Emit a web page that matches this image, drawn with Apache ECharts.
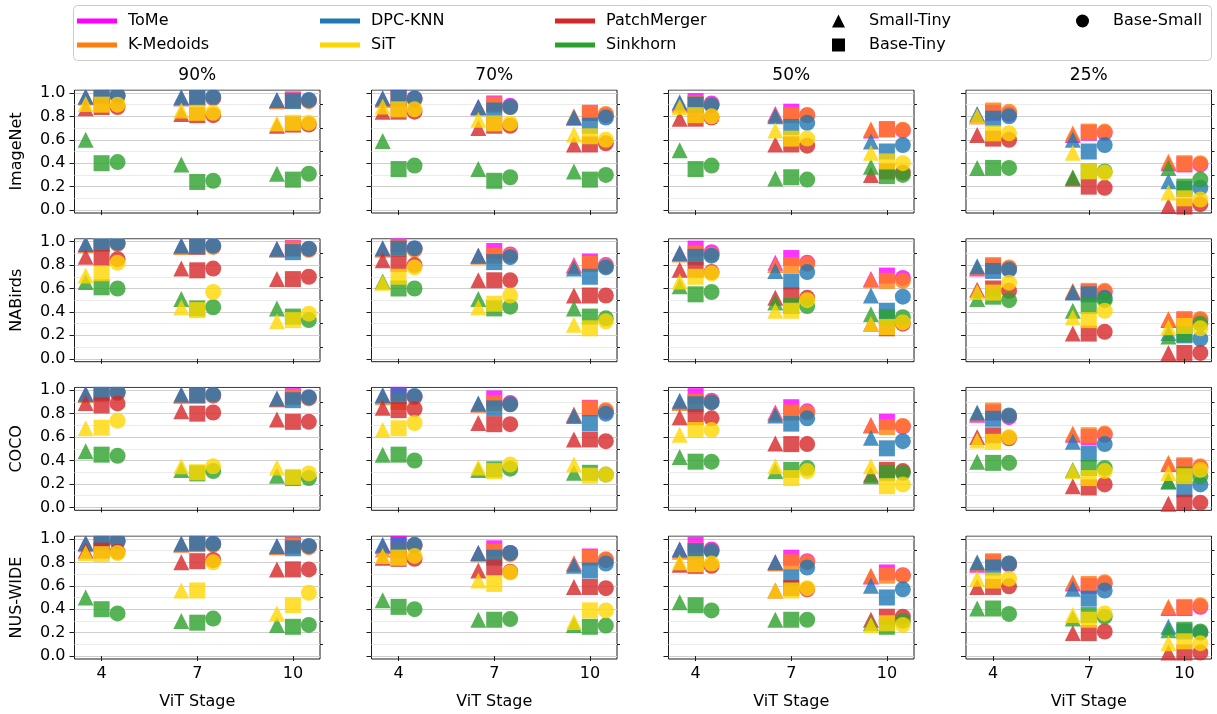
<!DOCTYPE html>
<html><head><meta charset="utf-8">
<script src="https://cdn.jsdelivr.net/npm/echarts@6/dist/echarts.min.js"></script>
<style>html,body{margin:0;padding:0;background:#fff}#chart{width:1217px;height:714px}</style>
</head><body><div id="chart"></div>
<script>
// ---------------- data ----------------
const datasets = ['ImageNet', 'NABirds', 'COCO', 'NUS-WIDE'];
const ratios = ['90%', '70%', '50%', '25%'];
const stages = [4, 7, 10];
const pairs = ['Small-Tiny', 'Base-Tiny', 'Base-Small'];
const legendMethods = ['ToMe', 'K-Medoids', 'DPC-KNN', 'SiT', 'PatchMerger', 'Sinkhorn'];
const plotOrder = ['ToMe', 'K-Medoids', 'DPC-KNN', 'PatchMerger', 'Sinkhorn', 'SiT'];
const yMajorTicks = [0, 0.2, 0.4, 0.6, 0.8, 1.0];
const yMinorTicks = [0.1, 0.3, 0.5, 0.7, 0.9];
// each array: rows = ratios (90,70,50,25); 9 values = stage 4 [ST,BT,BS], stage 7 [ST,BT,BS], stage 10 [ST,BT,BS]
const ImageNet_ToMe = [
  [0.965,0.975,0.975, 0.955,0.955,0.955, 0.935,0.945,0.935],
  [0.95,0.97,0.95, 0.88,0.91,0.89, 0.79,0.83,0.81],
  [0.91,0.93,0.91, 0.82,0.84,0.81, 0.68,0.69,0.68],
  [0.80,0.83,0.82, 0.64,0.66,0.66, 0.40,0.39,0.39]];
const ImageNet_KMedoids = [
  [0.96,0.97,0.97, 0.955,0.955,0.955, 0.93,0.935,0.93],
  [0.94,0.95,0.94, 0.87,0.90,0.88, 0.80,0.83,0.82],
  [0.90,0.91,0.90, 0.81,0.81,0.81, 0.69,0.69,0.685],
  [0.81,0.85,0.84, 0.655,0.67,0.67, 0.415,0.40,0.40]];
const ImageNet_DPCKNN = [
  [0.97,0.98,0.98, 0.965,0.96,0.965, 0.94,0.93,0.94],
  [0.955,0.96,0.955, 0.88,0.85,0.88, 0.79,0.72,0.79],
  [0.92,0.90,0.895, 0.80,0.71,0.745, 0.585,0.50,0.555],
  [0.82,0.78,0.80, 0.60,0.50,0.555, 0.245,0.18,0.19]];
const ImageNet_SiT = [
  [0.905,0.90,0.90, 0.85,0.83,0.83, 0.74,0.745,0.745],
  [0.885,0.86,0.86, 0.77,0.74,0.74, 0.645,0.63,0.60],
  [0.88,0.81,0.80, 0.68,0.61,0.61, 0.49,0.415,0.40],
  [0.80,0.655,0.655, 0.49,0.33,0.32, 0.15,0.10,0.09]];
const ImageNet_PatchMerger = [
  [0.87,0.88,0.88, 0.82,0.81,0.81, 0.72,0.73,0.73],
  [0.84,0.84,0.84, 0.70,0.72,0.72, 0.56,0.56,0.57],
  [0.78,0.78,0.79, 0.56,0.56,0.55, 0.30,0.33,0.32],
  [0.64,0.61,0.60, 0.27,0.20,0.19, 0.035,0.03,0.05]];
const ImageNet_Sinkhorn = [
  [0.60,0.40,0.41, 0.39,0.24,0.25, 0.31,0.26,0.31],
  [0.59,0.35,0.38, 0.35,0.25,0.28, 0.33,0.26,0.30],
  [0.51,0.35,0.38, 0.27,0.28,0.26, 0.37,0.29,0.30],
  [0.36,0.36,0.36, 0.28,0.33,0.33, 0.36,0.20,0.26]];

const NABirds_ToMe = [
  [0.975,0.985,0.985, 0.96,0.955,0.96, 0.935,0.945,0.935],
  [0.94,0.98,0.94, 0.88,0.92,0.89, 0.80,0.83,0.80],
  [0.90,0.94,0.91, 0.82,0.86,0.82, 0.68,0.71,0.69],
  [0.77,0.79,0.77, 0.57,0.57,0.57, 0.33,0.33,0.33]];
const NABirds_KMedoids = [
  [0.97,0.98,0.98, 0.955,0.955,0.955, 0.93,0.94,0.93],
  [0.93,0.95,0.93, 0.87,0.88,0.88, 0.79,0.81,0.79],
  [0.89,0.90,0.89, 0.80,0.80,0.81, 0.67,0.665,0.665],
  [0.78,0.80,0.78, 0.58,0.58,0.58, 0.34,0.34,0.34]];
const NABirds_DPCKNN = [
  [0.98,0.99,0.99, 0.966,0.96,0.966, 0.94,0.91,0.94],
  [0.944,0.94,0.944, 0.88,0.825,0.867, 0.77,0.70,0.78],
  [0.90,0.87,0.88, 0.75,0.66,0.74, 0.54,0.41,0.53],
  [0.79,0.75,0.76, 0.565,0.55,0.52, 0.22,0.20,0.17]];
const NABirds_SiT = [
  [0.71,0.73,0.82, 0.44,0.415,0.57, 0.32,0.33,0.385],
  [0.65,0.70,0.78, 0.44,0.47,0.54, 0.29,0.26,0.32],
  [0.66,0.70,0.73, 0.41,0.41,0.50, 0.30,0.27,0.31],
  [0.57,0.565,0.65, 0.355,0.33,0.41, 0.27,0.28,0.26]];
const NABirds_PatchMerger = [
  [0.87,0.86,0.85, 0.77,0.755,0.77, 0.68,0.68,0.70],
  [0.84,0.81,0.80, 0.67,0.67,0.67, 0.54,0.54,0.54],
  [0.76,0.76,0.74, 0.52,0.54,0.52, 0.30,0.26,0.30],
  [0.59,0.60,0.58, 0.215,0.215,0.23, 0.05,0.05,0.05]];
const NABirds_Sinkhorn = [
  [0.655,0.61,0.60, 0.51,0.43,0.44, 0.43,0.36,0.33],
  [0.66,0.60,0.60, 0.51,0.43,0.445, 0.43,0.36,0.345],
  [0.62,0.55,0.57, 0.48,0.45,0.45, 0.38,0.355,0.355],
  [0.51,0.53,0.50, 0.41,0.45,0.50, 0.19,0.21,0.30]];

const COCO_ToMe = [
  [0.965,0.975,0.98, 0.955,0.955,0.955, 0.925,0.95,0.935],
  [0.95,0.98,0.945, 0.88,0.93,0.89, 0.79,0.85,0.82],
  [0.90,0.95,0.91, 0.81,0.855,0.82, 0.70,0.73,0.69],
  [0.79,0.81,0.77, 0.62,0.60,0.62, 0.37,0.35,0.34]];
const COCO_KMedoids = [
  [0.96,0.97,0.975, 0.955,0.955,0.955, 0.92,0.94,0.93],
  [0.94,0.90,0.94, 0.875,0.89,0.88, 0.79,0.845,0.83],
  [0.89,0.90,0.90, 0.80,0.81,0.81, 0.70,0.686,0.695],
  [0.80,0.826,0.78, 0.63,0.616,0.63, 0.38,0.36,0.35]];
const COCO_DPCKNN = [
  [0.97,0.98,0.985, 0.963,0.96,0.963, 0.93,0.915,0.94],
  [0.96,0.95,0.95, 0.887,0.845,0.88, 0.78,0.72,0.80],
  [0.91,0.88,0.896, 0.785,0.715,0.76, 0.594,0.504,0.565],
  [0.81,0.756,0.784, 0.56,0.46,0.54, 0.22,0.154,0.196]];
const COCO_SiT = [
  [0.675,0.68,0.74, 0.35,0.30,0.35, 0.34,0.26,0.29],
  [0.66,0.675,0.72, 0.34,0.31,0.365, 0.365,0.27,0.28],
  [0.62,0.66,0.66, 0.35,0.25,0.31, 0.35,0.18,0.196],
  [0.57,0.56,0.60, 0.31,0.25,0.31, 0.294,0.266,0.32]];
const COCO_PatchMerger = [
  [0.89,0.87,0.887, 0.82,0.80,0.81, 0.75,0.73,0.73],
  [0.85,0.83,0.84, 0.72,0.71,0.71, 0.58,0.58,0.565],
  [0.77,0.77,0.76, 0.546,0.54,0.54, 0.28,0.32,0.31],
  [0.60,0.615,0.59, 0.18,0.17,0.196, 0.03,0.04,0.04]];
const COCO_Sinkhorn = [
  [0.48,0.45,0.44, 0.32,0.29,0.31, 0.27,0.25,0.25],
  [0.45,0.45,0.40, 0.32,0.325,0.33, 0.295,0.295,0.28],
  [0.43,0.39,0.39, 0.31,0.32,0.336, 0.265,0.295,0.295],
  [0.39,0.38,0.38, 0.32,0.336,0.336, 0.224,0.28,0.266]];

const NUSWIDE_ToMe = [
  [0.96,0.975,0.98, 0.955,0.96,0.955, 0.935,0.95,0.935],
  [0.94,0.98,0.945, 0.88,0.92,0.88, 0.79,0.85,0.82],
  [0.91,0.95,0.91, 0.80,0.84,0.81, 0.68,0.714,0.69],
  [0.78,0.80,0.78, 0.62,0.60,0.62, 0.41,0.41,0.42]];
const NUSWIDE_KMedoids = [
  [0.955,0.97,0.975, 0.95,0.955,0.95, 0.93,0.94,0.93],
  [0.91,0.90,0.94, 0.87,0.89,0.87, 0.79,0.84,0.826],
  [0.89,0.90,0.90, 0.79,0.80,0.80, 0.686,0.686,0.686],
  [0.79,0.81,0.79, 0.63,0.616,0.63, 0.42,0.42,0.434]];
const NUSWIDE_DPCKNN = [
  [0.966,0.98,0.985, 0.96,0.966,0.96, 0.94,0.92,0.94],
  [0.95,0.947,0.95, 0.88,0.84,0.88, 0.77,0.73,0.79],
  [0.91,0.896,0.896, 0.80,0.67,0.756, 0.60,0.50,0.57],
  [0.80,0.756,0.79, 0.574,0.49,0.56, 0.25,0.21,0.20]];
const NUSWIDE_SiT = [
  [0.88,0.87,0.88, 0.56,0.56,0.80, 0.364,0.434,0.54],
  [0.855,0.84,0.855, 0.645,0.616,0.714, 0.29,0.39,0.39],
  [0.80,0.784,0.79, 0.56,0.56,0.58, 0.266,0.28,0.266],
  [0.66,0.645,0.66, 0.35,0.31,0.364, 0.11,0.126,0.11]];
const NUSWIDE_PatchMerger = [
  [0.90,0.90,0.89, 0.80,0.81,0.82, 0.74,0.74,0.74],
  [0.84,0.83,0.83, 0.73,0.756,0.72, 0.59,0.59,0.58],
  [0.78,0.77,0.77, 0.56,0.58,0.57, 0.31,0.336,0.336],
  [0.59,0.59,0.595, 0.196,0.196,0.21, 0.03,0.03,0.03]];
const NUSWIDE_Sinkhorn = [
  [0.50,0.40,0.364, 0.30,0.285,0.32, 0.266,0.25,0.266],
  [0.476,0.42,0.40, 0.31,0.31,0.316, 0.266,0.25,0.26],
  [0.46,0.434,0.39, 0.31,0.31,0.31, 0.28,0.25,0.30],
  [0.406,0.406,0.36, 0.32,0.35,0.336, 0.22,0.224,0.21]];

// ---------------- assembly ----------------
const DATA = {
  'ImageNet': {'ToMe': ImageNet_ToMe, 'K-Medoids': ImageNet_KMedoids, 'DPC-KNN': ImageNet_DPCKNN, 'SiT': ImageNet_SiT, 'PatchMerger': ImageNet_PatchMerger, 'Sinkhorn': ImageNet_Sinkhorn},
  'NABirds': {'ToMe': NABirds_ToMe, 'K-Medoids': NABirds_KMedoids, 'DPC-KNN': NABirds_DPCKNN, 'SiT': NABirds_SiT, 'PatchMerger': NABirds_PatchMerger, 'Sinkhorn': NABirds_Sinkhorn},
  'COCO': {'ToMe': COCO_ToMe, 'K-Medoids': COCO_KMedoids, 'DPC-KNN': COCO_DPCKNN, 'SiT': COCO_SiT, 'PatchMerger': COCO_PatchMerger, 'Sinkhorn': COCO_Sinkhorn},
  'NUS-WIDE': {'ToMe': NUSWIDE_ToMe, 'K-Medoids': NUSWIDE_KMedoids, 'DPC-KNN': NUSWIDE_DPCKNN, 'SiT': NUSWIDE_SiT, 'PatchMerger': NUSWIDE_PatchMerger, 'Sinkhorn': NUSWIDE_Sinkhorn}
};
const COLORS = {'ToMe': '#ff00ff', 'K-Medoids': '#ff7f0e', 'DPC-KNN': '#1f77b4', 'SiT': '#ffd700', 'PatchMerger': '#d62728', 'Sinkhorn': '#2ca02c'};
const SHAPES = ['triangle', 'rect', 'circle'];
const SHIFT = [-0.5, 0, 0.5];

const FONT = 'DejaVu Sans';
const colLeft = [74.5, 371.5, 668.5, 966];
const colW = 245.5;
const rowTop = [90, 238.7, 387.3, 536];
const rowH = 123;
const FRAME = '#1a1a1a';

const grid = [], xAxis = [], yAxis = [], series = [], title = [], masks = [];
for (let r = 0; r < 4; r++) {
  for (let c = 0; c < 4; c++) {
    const gi = r * 4 + c;
    grid.push({left: colLeft[c], top: rowTop[r], width: colW, height: rowH,
      show: true, borderColor: FRAME, borderWidth: 1, backgroundColor: 'transparent', containLabel: false});
    // white strip above the frame: clips markers that overflow the top edge (as matplotlib does)
    masks.push({type: 'rect', z: 3, silent: true,
      shape: {x: colLeft[c] - 3, y: rowTop[r] - 12, width: colW + 6, height: 11.5},
      style: {fill: '#fff'}});
    xAxis.push({gridIndex: gi, type: 'value', min: 3.15, max: 10.85, z: 5,
      axisLine: {show: false}, splitLine: {show: false},
      axisTick: {show: true, customValues: stages, length: 5, lineStyle: {color: FRAME, width: 1}},
      axisLabel: {show: r === 3, customValues: stages, margin: 7, fontSize: 16, color: '#000', fontFamily: FONT},
      name: r === 3 ? 'ViT Stage' : '', nameLocation: 'middle', nameGap: 35,
      nameTextStyle: {fontSize: 16, color: '#000', fontFamily: FONT}});
    yAxis.push({gridIndex: gi, type: 'value', min: -0.025, max: 1.025,
      axisLine: {show: false},
      axisTick: {show: true, customValues: yMajorTicks, length: 5, lineStyle: {color: FRAME, width: 1}},
      axisLabel: {show: c === 0, customValues: yMajorTicks, margin: 9, fontSize: 16, color: '#000', fontFamily: FONT,
        formatter: v => v.toFixed(1)},
      splitLine: {show: true, lineStyle: {color: '#cfcfcf', width: 1}},
      name: c === 0 ? datasets[r] : '', nameLocation: 'middle', nameGap: 50, nameRotate: 90,
      nameTextStyle: {fontSize: 16, color: '#000', fontFamily: FONT}});
    yAxis.push({gridIndex: gi, type: 'value', min: -0.025, max: 1.025,
      axisLine: {show: false},
      axisTick: {show: true, customValues: yMinorTicks, length: 3, lineStyle: {color: FRAME, width: 1}},
      axisLabel: {show: false, customValues: yMinorTicks},
      splitLine: {show: true, lineStyle: {color: '#ebebeb', width: 1}}});
    for (const m of plotOrder) {
      const vals = DATA[datasets[r]][m][c];
      const data = [];
      stages.forEach((s, si) => pairs.forEach((p, pi) => {
        data.push({value: [s + SHIFT[pi], vals[si * 3 + pi]], symbol: SHAPES[pi]});
      }));
      series.push({type: 'scatter', name: m, xAxisIndex: gi, yAxisIndex: gi * 2, data: data,
        symbolSize: 16, itemStyle: {color: COLORS[m], opacity: 0.8}, silent: true, clip: false});
    }
  }
}
ratios.forEach((t, c) => title.push({text: t, left: colLeft[c] + colW / 2, top: 67, textAlign: 'center', padding: 0,
  textStyle: {fontSize: 17, fontWeight: 'normal', color: '#000', fontFamily: FONT}}));

// legend-only series for the marker shapes
pairs.forEach(p => series.push({type: 'scatter', name: p, xAxisIndex: 0, yAxisIndex: 0, data: [], itemStyle: {color: '#000'}}));

const legendSlots = {
  'ToMe': [77, 0], 'K-Medoids': [77, 1], 'DPC-KNN': [320, 0], 'SiT': [320, 1],
  'PatchMerger': [555, 0], 'Sinkhorn': [555, 1],
  'Small-Tiny': [832, 0], 'Base-Tiny': [832, 1], 'Base-Small': [1076, 0]
};
const rowY = [13, 37];
const legend = [];
legendMethods.forEach(m => {
  const [x, row] = legendSlots[m];
  legend.push({left: x, top: rowY[row], padding: 0, itemWidth: 40, itemHeight: 5, selectedMode: false,
    data: [{name: m, icon: 'rect', itemStyle: {color: COLORS[m], opacity: 1}}],
    textStyle: {fontSize: 16, color: '#000', fontFamily: FONT, padding: [0, 0, 0, 6]}});
});
pairs.forEach((p, pi) => {
  const [x, row] = legendSlots[p];
  legend.push({left: x, top: rowY[row], padding: 0, itemWidth: 13, itemHeight: 13, selectedMode: false,
    data: [{name: p, icon: SHAPES[pi], itemStyle: {color: '#000', opacity: 1}}],
    textStyle: {fontSize: 16, color: '#000', fontFamily: FONT, padding: [0, 0, 0, 19]}});
});

const chart = echarts.init(document.getElementById('chart'), null, {renderer: 'canvas'});
chart.setOption({
  animation: false,
  backgroundColor: '#fff',
  graphic: [{type: 'rect', z: -1, shape: {x: 73.5, y: 5.5, width: 1138, height: 55, r: 4},
    style: {fill: '#fff', stroke: '#cccccc', lineWidth: 1}}].concat(masks),
  title, legend, grid, xAxis, yAxis, series
});
</script></body></html>
